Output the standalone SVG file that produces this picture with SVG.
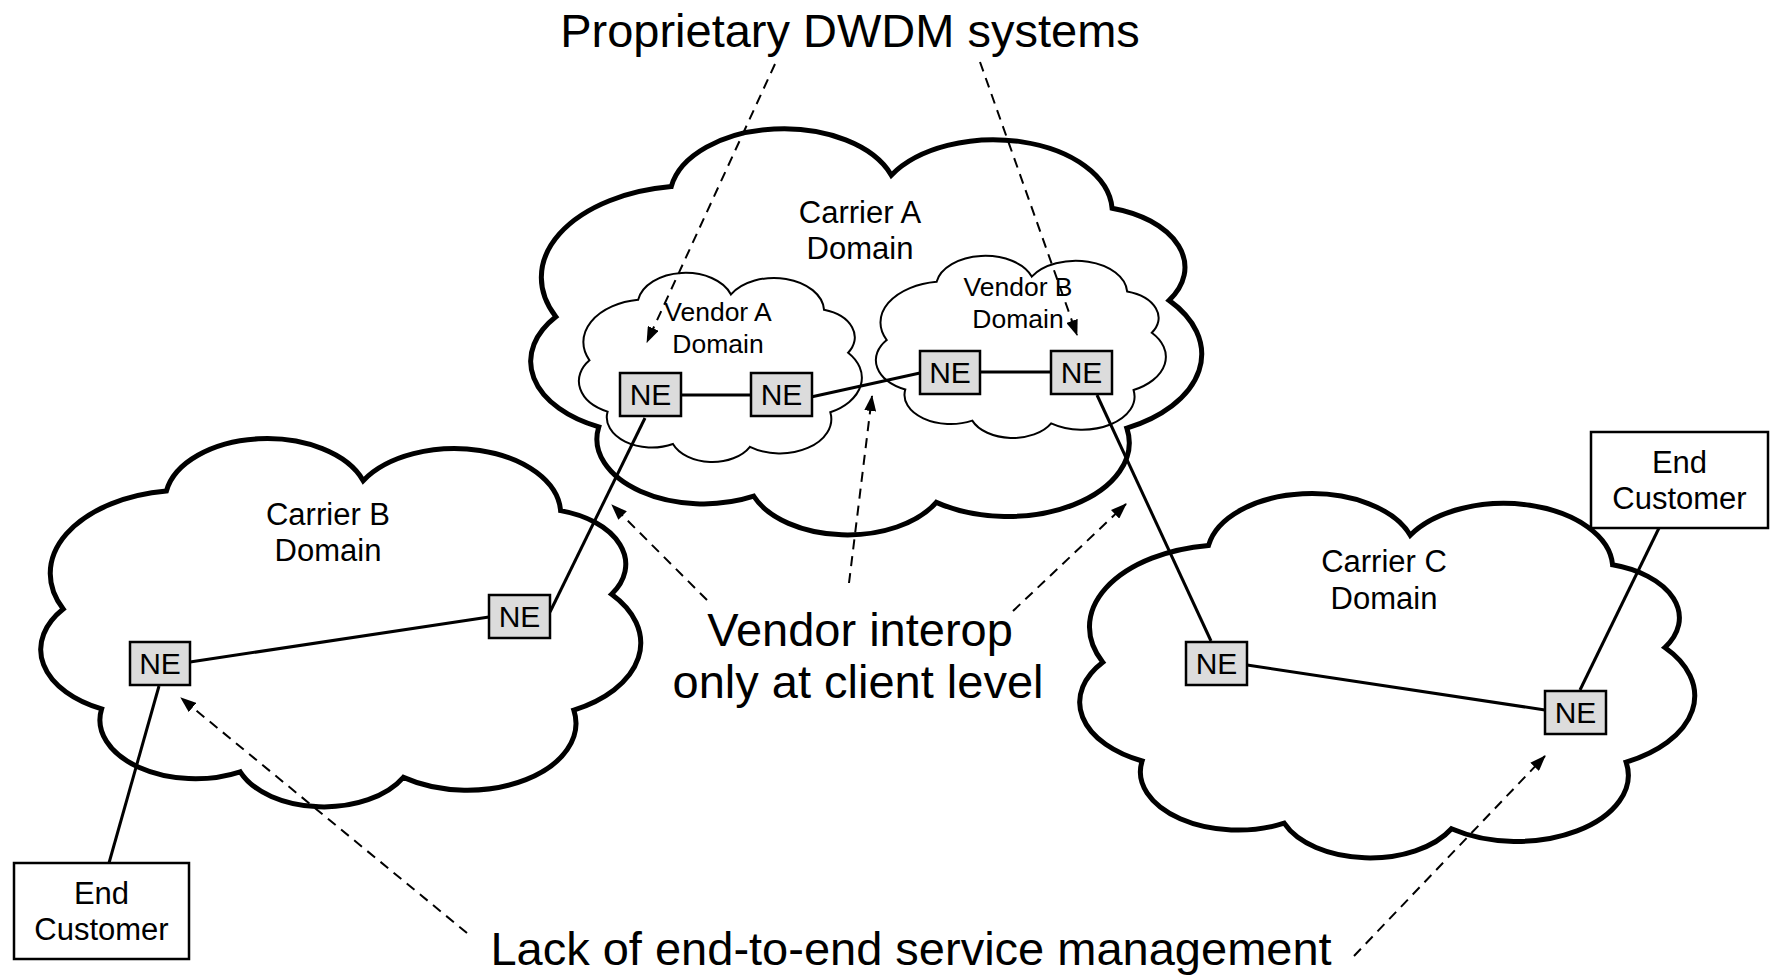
<svg xmlns="http://www.w3.org/2000/svg" xmlns:xlink="http://www.w3.org/1999/xlink" width="1774" height="979" viewBox="0 0 1774 979">
<style>
text{font-family:"Liberation Sans",Arial,sans-serif;fill:#000;text-anchor:middle}
.big{font-size:47px}
.mid{font-size:31px}
.small{font-size:26.5px}
.ne{font-size:30px}
.cloudT{fill:#fff;stroke:#000;stroke-width:5}
.cloudV{fill:#fff;stroke:#000;stroke-width:2}
.nebox{fill:#dcdcdc;stroke:#000;stroke-width:2.5}
.cust{fill:#fff;stroke:#000;stroke-width:2.5}
.link{stroke:#000;stroke-width:3;fill:none}
.dash{stroke:#000;stroke-width:2;fill:none;stroke-dasharray:10 7;marker-end:url(#arr)}
</style>
<defs>
<path id="cloud" vector-effect="non-scaling-stroke" d="M209 146 A170 170 0 0 1 537 118 A177 177 0 0 1 866 199 A151 151 0 0 1 951 425 A203 203 0 0 1 888 738 A181 181 0 0 1 604 920 A150 150 0 0 1 332 905 A159 159 0 0 1 101 735 A178 178 0 0 1 37 465 A225 225 0 0 1 209 146 Z"/>
<marker id="arr" markerUnits="userSpaceOnUse" markerWidth="16" markerHeight="12" refX="15" refY="6" orient="auto">
<path d="M0 0 L16 6 L0 12 Z" fill="#000"/>
</marker>
</defs>

<g id="cloud-carrier-a"><use xlink:href="#cloud" class="cloudT" transform="translate(531 127) scale(0.671 0.408)"/></g>
<g id="cloud-carrier-b"><use xlink:href="#cloud" class="cloudT" transform="translate(41 437) scale(0.600 0.370)"/></g>
<g id="cloud-carrier-c"><use xlink:href="#cloud" class="cloudT" transform="translate(1080 492) scale(0.615 0.366)"/></g>
<g id="cloud-vendor-a"><use xlink:href="#cloud" class="cloudV" transform="translate(579 272) scale(0.283 0.190)"/></g>
<g id="cloud-vendor-b"><use xlink:href="#cloud" class="cloudV" transform="translate(876 255) scale(0.290 0.183)"/></g>

<g id="labels">
<text class="big" x="850" y="47">Proprietary DWDM systems</text>
<text class="mid" x="860" y="223">Carrier A</text>
<text class="mid" x="860" y="259">Domain</text>
<text class="small" x="718" y="321">Vendor A</text>
<text class="small" x="718" y="353">Domain</text>
<text class="small" x="1018" y="296">Vendor B</text>
<text class="small" x="1018" y="328">Domain</text>
<text class="mid" x="328" y="525">Carrier B</text>
<text class="mid" x="328" y="561">Domain</text>
<text class="mid" x="1384" y="572">Carrier C</text>
<text class="mid" x="1384" y="609">Domain</text>
<text class="big" x="860" y="646">Vendor interop</text>
<text class="big" x="858" y="698">only at client level</text>
<text class="big" x="911" y="965">Lack of end-to-end service management</text>
</g>

<g id="connectors">
<line class="link" x1="681" y1="395" x2="751" y2="395"/>
<line class="link" x1="811" y1="397" x2="920" y2="373"/>
<line class="link" x1="980" y1="372" x2="1051" y2="372"/>
<line class="link" x1="645" y1="418" x2="550" y2="612"/>
<line class="link" x1="1097" y1="395" x2="1211" y2="641"/>
<line class="link" x1="489" y1="617" x2="190" y2="662"/>
<line class="link" x1="159" y1="686" x2="109" y2="863"/>
<line class="link" x1="1247" y1="665" x2="1545" y2="710"/>
<line class="link" x1="1580" y1="690" x2="1659" y2="528"/>
<line class="dash" x1="775" y1="64" x2="647" y2="342"/>
<line class="dash" x1="980" y1="62" x2="1077" y2="335"/>
<line class="dash" x1="707" y1="600" x2="612" y2="505"/>
<line class="dash" x1="849" y1="583" x2="872" y2="396"/>
<line class="dash" x1="1013" y1="611" x2="1126" y2="504"/>
<line class="dash" x1="467" y1="933" x2="181" y2="698"/>
<line class="dash" x1="1354" y1="956" x2="1545" y2="756"/>
</g>

<g id="ne-a1"><rect class="nebox" x="620" y="373" width="61" height="43"/><text class="ne" x="650.5" y="405">NE</text></g>
<g id="ne-a2"><rect class="nebox" x="751" y="373" width="61" height="43"/><text class="ne" x="781.5" y="405">NE</text></g>
<g id="ne-b1"><rect class="nebox" x="920" y="351" width="60" height="43"/><text class="ne" x="950" y="383">NE</text></g>
<g id="ne-b2"><rect class="nebox" x="1051" y="351" width="61" height="43"/><text class="ne" x="1081.5" y="383">NE</text></g>
<g id="ne-cb1"><rect class="nebox" x="489" y="595" width="61" height="43"/><text class="ne" x="519.5" y="627">NE</text></g>
<g id="ne-cb2"><rect class="nebox" x="130" y="642" width="60" height="43"/><text class="ne" x="160" y="674">NE</text></g>
<g id="ne-cc1"><rect class="nebox" x="1186" y="642" width="61" height="43"/><text class="ne" x="1216.5" y="674">NE</text></g>
<g id="ne-cc2"><rect class="nebox" x="1545" y="691" width="61" height="43"/><text class="ne" x="1575.5" y="723">NE</text></g>

<g id="end-customer-left"><rect class="cust" x="14" y="863" width="175" height="96"/><text class="mid" x="101.5" y="904">End</text><text class="mid" x="101.5" y="940">Customer</text></g>
<g id="end-customer-right"><rect class="cust" x="1591" y="432" width="177" height="96"/><text class="mid" x="1679.5" y="473">End</text><text class="mid" x="1679.5" y="509">Customer</text></g>
</svg>
